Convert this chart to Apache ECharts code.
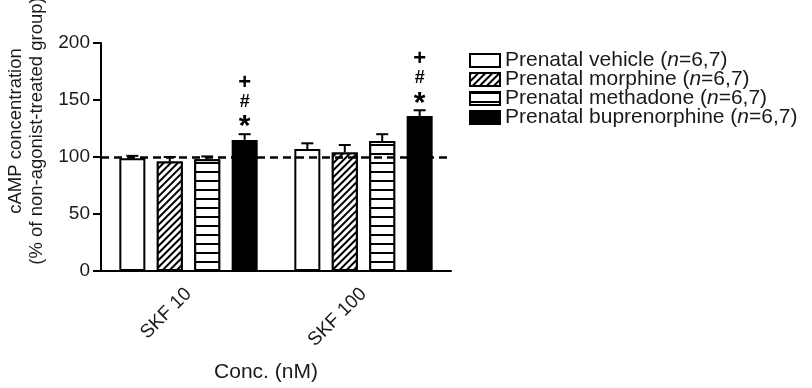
<!DOCTYPE html>
<html><head><meta charset="utf-8">
<script src="https://cdn.jsdelivr.net/npm/echarts@6/dist/echarts.min.js"></script>
<style>html,body{margin:0;padding:0;background:#fff;}#c{width:812px;height:388px;}</style>
</head><body><div id="c"></div>
<script>
var categories = ['SKF 10', 'SKF 100'];
var seriesNames = ['Prenatal vehicle', 'Prenatal morphine', 'Prenatal methadone', 'Prenatal buprenorphine'];
var vehicle = [99, 107];
var morphine = [96, 104];
var methadone = [98, 114];
var buprenorphine = [115, 136];
var vehicleErr = [2, 5];
var morphineErr = [4, 6.5];
var methadoneErr = [2.5, 6];
var buprenorphineErr = [5, 5];
var buprenorphineMarks = [['+', '#', '*'], ['+', '#', '*']];
var yTicks = [0, 50, 100, 150, 200];
var baselineValue = 100;

var means = [vehicle, morphine, methadone, buprenorphine];
var errs = [vehicleErr, morphineErr, methadoneErr, buprenorphineErr];
var marks = [null, null, null, buprenorphineMarks];

var TXT = '#1a1a1a';
var FONT = 'Liberation Sans, Arial, Helvetica, sans-serif';
var BAR_W = 26, BAR_GAP = 0.44;

var fills = [
  { color: '#fff' },
  { color: '#fff', decal: { symbol: 'rect', symbolSize: 1, color: '#000', backgroundColor: '#fff', dashArrayX: [1, 0], dashArrayY: [2, 2.5], rotation: -Math.PI / 4 } },
  { color: '#fff', decal: { symbol: 'rect', symbolSize: 1, color: '#000', backgroundColor: '#fff', dashArrayX: [1, 0], dashArrayY: [2, 7], rotation: 0 } },
  { color: '#000' }
];

var series = means.map(function (arr, i) {
  var s = {
    name: seriesNames[i],
    type: 'bar',
    data: arr,
    barWidth: BAR_W,
    barGap: (BAR_GAP * 100) + '%',
    itemStyle: Object.assign({ borderColor: '#000', borderWidth: 2 }, fills[i]),
    emphasis: { disabled: true },
    animation: false
  };
  if (i === 0) {
    s.markLine = {
      silent: true, symbol: 'none', label: { show: false },
      lineStyle: { color: '#000', type: [8, 5], width: 2.5 },
      data: [{ yAxis: baselineValue }],
      animation: false
    };
  }
  return s;
});

var errData = [];
means.forEach(function (arr, si) {
  arr.forEach(function (v, ci) {
    errData.push([ci, si, v, errs[si][ci], marks[si] ? marks[si][ci].join('|') : '']);
  });
});

var markFont = { '+': 22, '#': 18, '*': 30 };
var markShift = { '+': 0, '#': 0, '*': 6 };

series.push({
  type: 'custom',
  z: 10,
  silent: true,
  animation: false,
  data: errData,
  encode: { x: 0, y: 2 },
  renderItem: function (params, api) {
    var ci = api.value(0), si = api.value(1), m = api.value(2), e = api.value(3);
    var step = BAR_W * (1 + BAR_GAP);
    var base = api.coord([ci, m]);
    var x = base[0] + (si - 1.5) * step;
    var top = api.coord([ci, m + e])[1];
    var children = [
      { type: 'line', shape: { x1: x, y1: base[1], x2: x, y2: top }, style: { stroke: '#000', lineWidth: 2 } },
      { type: 'line', shape: { x1: x - 6, y1: top, x2: x + 6, y2: top }, style: { stroke: '#000', lineWidth: 2 } }
    ];
    var mk = errData[params.dataIndex][4];
    if (mk) {
      var parts = mk.split('|');
      var n = parts.length;
      parts.forEach(function (t, k) {
        var y = top - 13 - (n - 1 - k) * 19;
        children.push({ type: 'text', x: x, y: y + markShift[t], style: { text: t, fill: '#000', font: 'bold ' + markFont[t] + 'px ' + FONT, align: 'center', verticalAlign: 'middle' } });
      });
    }
    return { type: 'group', children: children };
  }
});

var chart = echarts.init(document.getElementById('c'), null, { renderer: 'canvas' });
chart.setOption({
  animation: false,
  backgroundColor: '#fff',
  textStyle: { fontFamily: FONT, color: TXT },
  grid: { left: 101, top: 43, width: 350, height: 232, containLabel: false },
  legend: {
    orient: 'vertical', left: 464, top: 45,
    icon: 'rect',
    itemWidth: 30, itemHeight: 13, itemGap: -2,
    data: seriesNames,
    selectedMode: false,
    textStyle: { fontSize: 21, lineHeight: 18, color: TXT, fontFamily: FONT, rich: { i: { fontStyle: 'italic', fontSize: 21, lineHeight: 18, color: TXT, fontFamily: FONT } } },
    formatter: function (name) { return name + ' ({i|n}=6,7)'; }
  },
  xAxis: {
    type: 'category', data: categories,
    name: 'Conc. (nM)', nameLocation: 'middle', nameGap: 91,
    nameTextStyle: { fontSize: 21, color: TXT, padding: [0, 20, 0, 0] },
    axisLine: { lineStyle: { color: '#000', width: 2 } },
    axisTick: { alignWithLabel: true, length: 8, lineStyle: { color: '#000', width: 2 } },
    axisLabel: { rotate: 45, fontSize: 19, color: TXT, margin: 20 }
  },
  yAxis: {
    type: 'value', min: yTicks[0], max: yTicks[yTicks.length - 1], interval: yTicks[1] - yTicks[0],
    splitLine: { show: false },
    axisLine: { show: true, lineStyle: { color: '#000', width: 2 } },
    axisTick: { show: true, length: 8, lineStyle: { color: '#000', width: 2 } },
    axisLabel: { fontSize: 19, color: TXT, margin: 11 }
  },
  graphic: [{
    type: 'text', x: 26, y: 131, rotation: Math.PI / 2,
    style: { text: 'cAMP concentration\n(% of non-agonist-treated group)', font: '18.5px ' + FONT, fill: TXT, align: 'center', verticalAlign: 'middle', lineHeight: 21 }
  }],
  series: series
});
</script></body></html>
